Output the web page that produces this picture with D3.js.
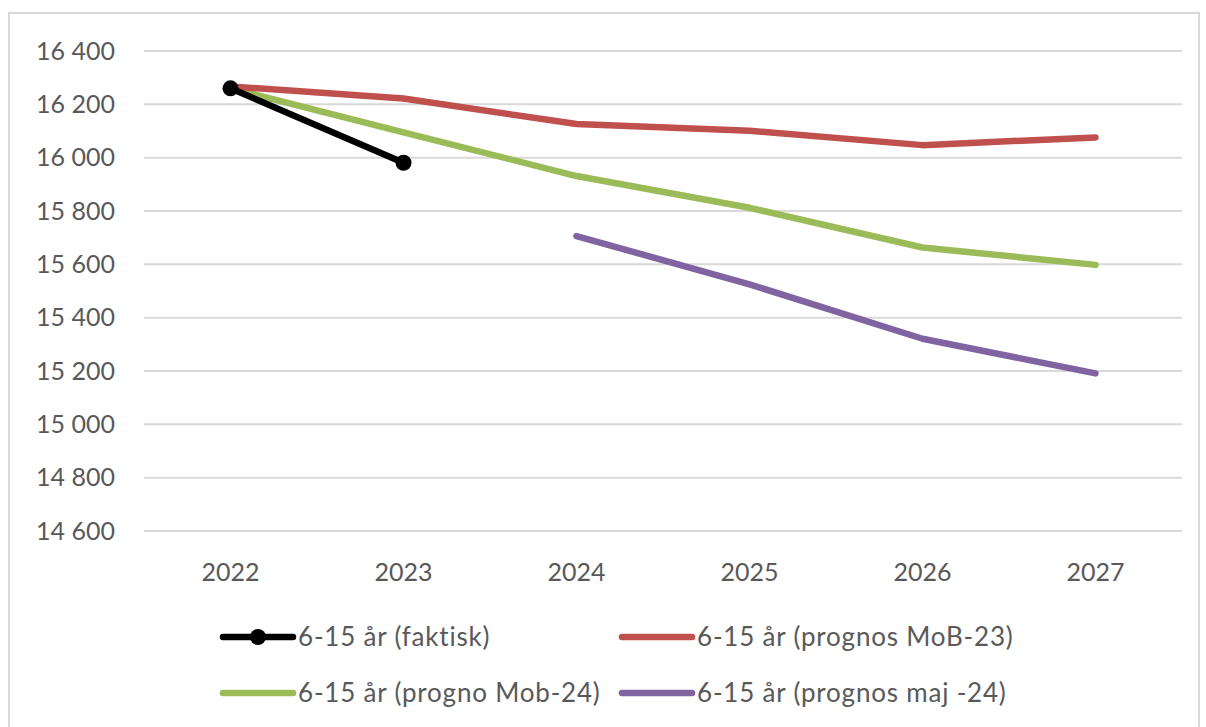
<!DOCTYPE html>
<html>
<head>
<meta charset="utf-8">
<script src="https://cdn.jsdelivr.net/npm/d3@7"></script>
<style>
  body { margin: 0; background: #fff; }
  svg { display: block; }
  text { font-family: Lato, "Open Sans", sans-serif; fill: #595959; }
</style>
</head>
<body>
<svg></svg>
<script>
var years = ["2022", "2023", "2024", "2025", "2026", "2027"];
var faktisk = [16260, 15981, null, null, null, null];
var mob23 = [16267, 16222, 16126, 16101, 16047, 16076];
var mob24 = [16260, 16095, 15931, 15812, 15663, 15598];
var maj24 = [null, null, 15706, 15525, 15321, 15191];
var yTicks = [14600, 14800, 15000, 15200, 15400, 15600, 15800, 16000, 16200, 16400];

var series = [
  { name: "6-15 år (faktisk)", values: faktisk, color: "#000000", marker: true },
  { name: "6-15 år (prognos MoB-23)", values: mob23, color: "#C0504D" },
  { name: "6-15 år (progno Mob-24)", values: mob24, color: "#9BBB59" },
  { name: "6-15 år (prognos maj -24)", values: maj24, color: "#8064A2" }
];

var width = 1206, height = 727;
var svg = d3.select("svg").attr("width", width).attr("height", height);

// chart border
svg.append("rect")
    .attr("x", 9).attr("y", 13)
    .attr("width", 1190).attr("height", 730)
    .attr("fill", "none")
    .attr("stroke", "#D9D9D9")
    .attr("stroke-width", 2);

var x = d3.scaleBand().domain(years).range([144, 1182]);
var y = d3.scaleLinear().domain([14600, 16400]).range([531, 51]);

// gridlines
svg.append("g").selectAll("line")
    .data(yTicks)
    .join("line")
    .attr("x1", 144).attr("x2", 1182)
    .attr("y1", function(d) { return y(d); })
    .attr("y2", function(d) { return y(d); })
    .attr("stroke", "#D9D9D9")
    .attr("stroke-width", 2);

// y labels
var fmt = function(d) { return d3.format(",")(d).replace(",", " "); };
svg.append("g").selectAll("text")
    .data(yTicks)
    .join("text")
    .attr("x", 115)
    .attr("y", function(d) { return y(d); })
    .attr("dy", "0.35em")
    .attr("text-anchor", "end")
    .style("font-size", "25px")
    .text(fmt);

// x labels
svg.append("g").selectAll("text")
    .data(years)
    .join("text")
    .attr("x", function(d) { return x(d) + x.bandwidth() / 2; })
    .attr("y", 572)
    .attr("dy", "0.35em")
    .attr("text-anchor", "middle")
    .style("font-size", "25px")
    .text(function(d) { return d; });

var line = d3.line()
    .defined(function(d) { return d != null; })
    .x(function(d, i) { return x(years[i]) + x.bandwidth() / 2; })
    .y(function(d) { return y(d); });

// draw order: purple, green, red, black on top
[3, 2, 1, 0].forEach(function(k) {
  var s = series[k];
  svg.append("path")
      .datum(s.values)
      .attr("d", line)
      .attr("fill", "none")
      .attr("stroke", s.color)
      .attr("stroke-width", 6.5)
      .attr("stroke-linejoin", "round")
      .attr("stroke-linecap", "round");
  if (s.marker) {
    svg.append("g").selectAll("circle")
        .data(s.values.map(function(v, i) { return { v: v, i: i }; }).filter(function(d) { return d.v != null; }))
        .join("circle")
        .attr("cx", function(d) { return x(years[d.i]) + x.bandwidth() / 2; })
        .attr("cy", function(d) { return y(d.v); })
        .attr("r", 8)
        .attr("fill", s.color);
  }
});

// legend
var legendPos = [[223, 637], [622, 637], [223, 693], [622, 693]];
series.forEach(function(s, k) {
  var g = svg.append("g").attr("transform", "translate(" + legendPos[k][0] + "," + legendPos[k][1] + ")");
  g.append("line")
      .attr("x1", 0).attr("x2", 70)
      .attr("stroke", s.color)
      .attr("stroke-width", 6.5)
      .attr("stroke-linecap", "round");
  if (s.marker) {
    g.append("circle").attr("cx", 35).attr("r", 8).attr("fill", s.color);
  }
  g.append("text")
      .attr("x", 75)
      .attr("dy", "0.35em")
      .style("font-size", "26px")
      .style("letter-spacing", "0.8px")
      .text(s.name);
});
</script>
</body>
</html>
